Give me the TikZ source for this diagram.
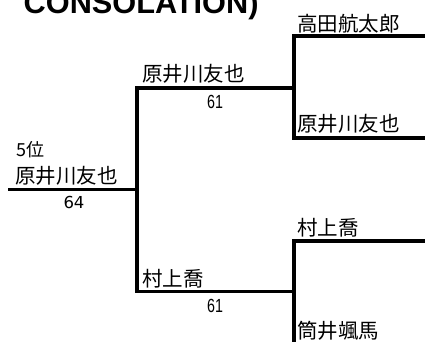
\documentclass[tikz,border=0pt]{standalone}
\usepackage{fontspec}
\usepackage{graphicx}
\newfontfamily\jp{Noto Sans CJK JP}
\newfontfamily\lib{Liberation Sans}
\newfontfamily\dv{DejaVu Sans}
\tikzset{
  bline/.style={line width=3.3pt, line cap=rect, line join=miter},
  jname/.style={anchor=base west, inner sep=0pt, font=\jp\fontsize{20.5}{22}\selectfont},
  score/.style={anchor=base, inner sep=0pt, font=\lib\fontsize{19}{20}\selectfont},
}
\begin{document}
\begin{tikzpicture}[x=1pt,y=-1pt]
\useasboundingbox (0,0) rectangle (425,341);
\clip (0,0) rectangle (425,341);
% title (cut off)
\node[anchor=base west, inner sep=0pt, font=\lib\bfseries\fontsize{30.7}{32}\selectfont] (title) at (23.5,13) {CONSOLATION)};
% corner coordinates
\coordinate (r1a) at (425,36);
\coordinate (r1b) at (294,36);
\coordinate (r1c) at (294,138);
\coordinate (r1d) at (425,138);
\coordinate (r2a) at (425,241);
\coordinate (r2b) at (294,241);
\coordinate (r2c) at (294,350);
\coordinate (m1a) at (294,88);
\coordinate (m1b) at (137,88);
\coordinate (m2b) at (137,291.5);
\coordinate (m2a) at (294,291.5);
\coordinate (l1a) at (10,189.5);
\coordinate (l1b) at (137,189.5);
% bracket lines
\draw[bline] (r1a) -- (r1b) -- (r1c) -- (r1d);
\draw[bline] (r2a) -- (r2b) -- (r2c);
\draw[bline] (m1a) -- (m1b) -- (m2b) -- (m2a);
\draw[bline] (l1a) -- (l1b);
% names
\node[jname] (t1) at (297,31.5) {高田航太郎};
\node[jname] (t2) at (297,131.5) {原井川友也};
\node[jname] (t3) at (297,235.5) {村上喬};
\node[jname] (t4) at (297,338.5) {筒井颯馬};
\node[jname] (m1) at (142,81.5) {原井川友也};
\node[jname] (m2) at (142,286.5) {村上喬};
\node[jname] (w) at (15,183.5) {原井川友也};
\node[anchor=base west, inner sep=0pt, font=\jp\fontsize{18}{19}\selectfont] (rank) at (16,156.5) {5位};
% scores
\node[score] (s1) at (215,108) {\scalebox{0.75}[1]{61}};
\node[score] (s2) at (215,312) {\scalebox{0.75}[1]{61}};
\node[anchor=base, inner sep=0pt, font=\dv\fontsize{16.5}{17}\selectfont] (s0) at (74,208.5) {64};
\end{tikzpicture}
\end{document}
